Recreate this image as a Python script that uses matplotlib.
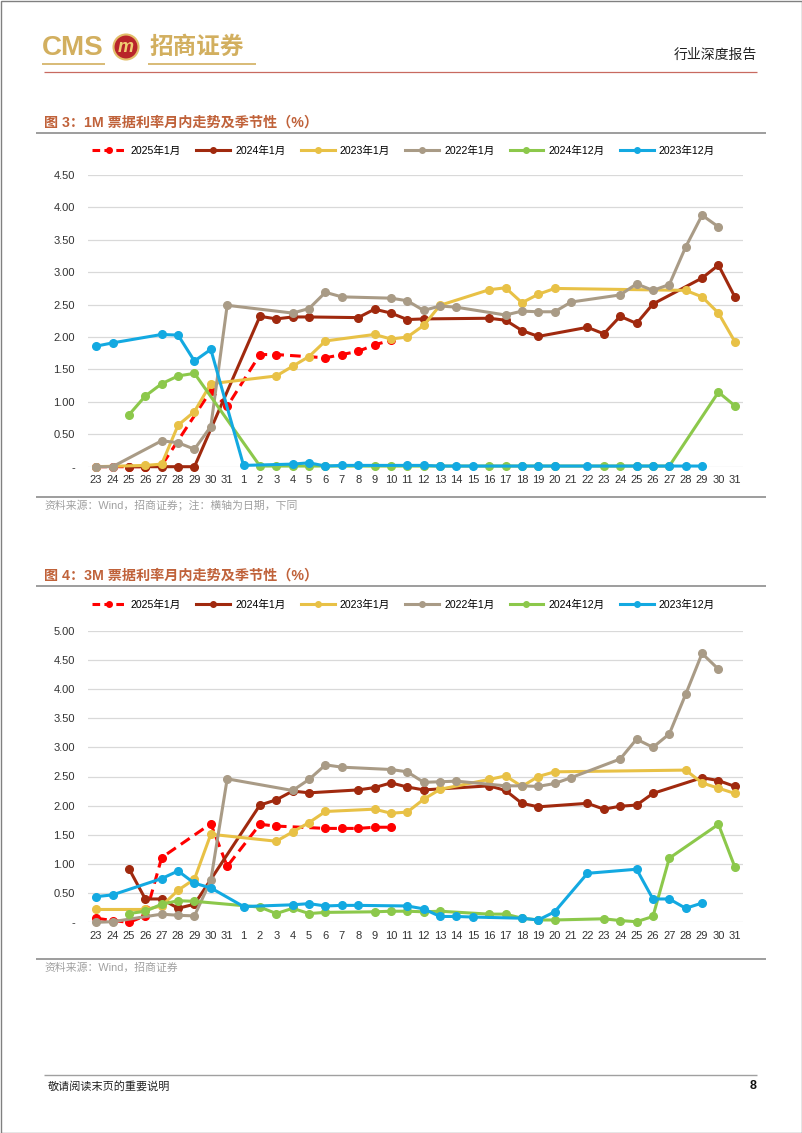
import numpy as np
import matplotlib
matplotlib.use("Agg")
import matplotlib.pyplot as plt
from matplotlib.lines import Line2D
from matplotlib.patches import Circle, Rectangle

plt.rcParams["font.family"] = ["Liberation Sans", "Noto Sans CJK SC"]

N = None

# -----------------------------
# DATA
# -----------------------------
# x axis: 23..31 of the previous month, then 1..31
days = [str(d) for d in list(range(23, 32)) + list(range(1, 32))]

names = ["2025年1月", "2024年1月", "2023年1月", "2022年1月", "2024年12月", "2023年12月"]
colors = ["#FF0000", "#A0290E", "#E8C146", "#A99B86", "#8CC84B", "#13A9E1"]

# 1M
r25_1m = [0, 0, 0, 0, 0.02, N, N, 1.17, 0.93,
          N, 1.73, 1.73, N, N, 1.68, 1.73, 1.78, 1.88, 1.95] + [N] * 21
r24_1m = [N, N, 0, 0, 0, 0, 0, N, N,
          N, 2.32, 2.28, 2.31, 2.31, N, N, 2.30, 2.43, 2.37,
          2.27, 2.28, N, N, N, 2.29, 2.26, 2.10, 2.01, N,
          N, 2.15, 2.05, 2.32, 2.21, 2.51, N, N, 2.91, 3.11, 2.62]
r23_1m = [0, N, N, 0.02, 0.04, 0.64, 0.85, 1.28, N,
          N, N, 1.40, 1.55, 1.70, 1.94, N, N, 2.04, 1.97,
          2.00, 2.18, 2.49, N, N, 2.73, 2.76, 2.53, 2.66, 2.75,
          N, N, N, N, N, N, N, 2.72, 2.62, 2.37, 1.93]
r22_1m = [0, 0, N, N, 0.40, 0.37, 0.27, 0.62, 2.49,
          N, N, N, 2.37, 2.44, 2.69, 2.62, N, N, 2.60,
          2.56, 2.41, 2.48, 2.46, N, N, 2.34, 2.40, 2.39, 2.39,
          2.54, N, N, 2.65, 2.82, 2.72, 2.81, 3.39, 3.88, 3.70, N]
d24_1m = [N, N, 0.80, 1.09, 1.28, 1.40, 1.44, N, N,
          N, 0.01, 0.01, 0.01, 0.01, 0.01, N, N, 0.01, 0.01,
          0.01, 0.01, 0.01, N, N, 0.01, 0.01, 0.01, 0.01, 0.01,
          N, N, 0.01, 0.01, 0.01, 0.01, 0.01, N, N, 1.15, 0.94]
d23_1m = [1.86, 1.91, N, N, 2.04, 2.03, 1.63, 1.81, N,
          0.02, N, N, 0.04, 0.06, 0.01, 0.02, 0.02, N, N,
          0.02, 0.02, 0.01, 0.01, 0.01, N, N, 0.01, 0.01, 0.01,
          N, 0.01, N, N, 0.01, 0.01, 0.01, 0.01, 0.01, N, N]

# 3M
r25_3m = [0.07, 0.03, 0.0, 0.11, 1.11, N, N, 1.69, 0.96,
          N, 1.68, 1.65, N, N, 1.61, 1.61, 1.61, 1.63, 1.63] + [N] * 21
r24_3m = [N, N, 0.92, 0.40, 0.40, 0.24, 0.31, N, N,
          N, 2.01, 2.10, 2.25, 2.22, N, N, 2.27, 2.31, 2.39,
          2.32, 2.27, N, N, N, 2.34, 2.26, 2.04, 1.98, N,
          N, 2.04, 1.94, 1.99, 2.01, 2.21, N, N, 2.48, 2.43, 2.33]
r23_3m = [0.22, N, N, 0.22, 0.28, 0.55, 0.74, 1.51, N,
          N, N, 1.39, 1.55, 1.71, 1.90, N, N, 1.94, 1.87,
          1.89, 2.11, 2.28, N, N, 2.45, 2.51, 2.33, 2.50, 2.58,
          N, N, N, N, N, N, N, 2.61, 2.39, 2.30, 2.21]
r22_3m = [0.0, 0.01, N, N, 0.14, 0.12, 0.11, 0.72, 2.46,
          N, N, N, 2.26, 2.45, 2.70, 2.66, N, N, 2.62,
          2.58, 2.40, 2.41, 2.42, N, N, 2.34, 2.34, 2.33, 2.38,
          2.48, N, N, 2.80, 3.14, 3.00, 3.23, 3.91, 4.61, 4.34, N]
d24_3m = [N, N, 0.15, 0.19, 0.31, 0.37, 0.36, N, N,
          N, 0.26, 0.15, 0.24, 0.15, 0.17, N, N, 0.18, 0.19,
          0.19, 0.18, 0.19, N, N, 0.14, 0.14, 0.07, 0.04, 0.04,
          N, N, 0.06, 0.03, 0.01, 0.10, 1.10, N, N, 1.68, 0.95]
d23_3m = [0.44, 0.47, N, N, 0.75, 0.88, 0.67, 0.59, N,
          0.27, N, N, 0.30, 0.32, 0.28, 0.29, 0.29, N, N,
          0.28, 0.23, 0.10, 0.10, 0.09, N, N, 0.07, 0.04, 0.18,
          N, 0.84, N, N, 0.91, 0.40, 0.40, 0.24, 0.33, N, N]

series_1m = [r25_1m, r24_1m, r23_1m, r22_1m, d24_1m, d23_1m]
series_3m = [r25_3m, r24_3m, r23_3m, r22_3m, d24_3m, d23_3m]

# -----------------------------
# FIGURE
# -----------------------------
W, H = 802, 1133
fig = plt.figure(figsize=(W / 100, H / 100), dpi=100)
fig.patch.set_facecolor("white")

bg = fig.add_axes([0, 0, 1, 1], zorder=0)
bg.set_xlim(0, W)
bg.set_ylim(H, 0)
bg.axis("off")

def fx(px):
    return px / W

def fy(py):
    return 1 - py / H

def hline(y, x0, x1, color, lw):
    bg.plot([x0, x1], [y, y], color=color, lw=lw, solid_capstyle="butt")

# header
gold = "#D2AF5F"
bg.text(42, 48, "CMS", fontsize=20, color=gold, va="center", ha="left", fontweight="bold")
bg.add_patch(Circle((126, 47), 12.5, facecolor="#B8242A", edgecolor="#E2BE6A", lw=1.5))
bg.text(126, 47, "m", fontsize=13, color="#F0CE72", ha="center", va="center",
        fontweight="bold", style="italic")
bg.text(150, 47, "招商证券", fontsize=17, color=gold, va="center", ha="left",
        family=["Noto Sans CJK SC"], fontweight="bold")
hline(63.5, 42, 105, gold, 1.2)
hline(63.5, 148, 256, gold, 1.2)
bg.text(757, 55, "行业深度报告", fontsize=10, color="#222222", ha="right", va="center")
hline(72, 44, 757, "#C86A60", 0.9)

title_color = "#C0623A"
src_color = "#A0A0A0"


def draw_chart(title, title_y, top_px, bottom_px, ymax, series, legend_y, src_y, src_text):
    bg.text(44, title_y, title, fontsize=10.2, color=title_color, va="center", ha="left",
            fontweight="bold")
    hline(title_y + 10, 36, 766, "#8C8C8C", 1.2)

    ax = fig.add_axes([fx(88), fy(bottom_px), fx(743) - fx(88), fy(top_px) - fy(bottom_px)],
                      zorder=2)
    ax.set_facecolor("none")
    for i, vals in enumerate(series):
        xs = [k for k, v in enumerate(vals) if v is not None]
        ys = [v for v in vals if v is not None]
        line, = ax.plot(xs, ys, color=colors[i], lw=2.2, marker="o", ms=5.5,
                        zorder=3 + i, clip_on=False)
        if i == 0:
            line.set_dashes((3.5, 2))
    ax.set_xlim(-0.5, 39.5)
    ax.set_ylim(0, ymax)
    yt = np.arange(0, ymax + 0.001, 0.5)
    ax.set_yticks(yt)
    ax.set_yticklabels(["-" if v == 0 else f"{v:.2f}" for v in yt])
    ax.set_xticks(range(len(days)))
    ax.set_xticklabels(days)
    ax.grid(axis="y", color="#D9D9D9", lw=0.9)
    ax.set_axisbelow(True)
    for s in ax.spines.values():
        s.set_visible(False)
    ax.tick_params(axis="y", length=0, labelsize=8, colors="#333333", pad=9.4)
    ax.tick_params(axis="x", length=0, labelsize=8, colors="#333333", pad=6)

    handles = []
    for i, name in enumerate(names):
        h = Line2D([], [], color=colors[i], lw=2.2, marker="o", ms=4, label=name)
        if i == 0:
            h.set_dashes((2.5, 1.4))
        handles.append(h)
    fig.legend(handles=handles, loc="center left", bbox_to_anchor=(fx(92), fy(legend_y)),
               ncol=6, frameon=False, fontsize=7.6, handlelength=3.2, handletextpad=0.48,
               columnspacing=1.45, borderpad=0, borderaxespad=0)

    hline(src_y - 8.5, 36, 766, "#8C8C8C", 1.2)
    bg.text(44, src_y, src_text, fontsize=7.8, color=src_color, va="center", ha="left")


draw_chart("图 3：1M 票据利率月内走势及季节性（%）", 123, 175, 466.7, 4.5, series_1m, 151,
           505.5, "资料来源：Wind，招商证券；注：横轴为日期，下同")
draw_chart("图 4：3M 票据利率月内走势及季节性（%）", 576, 630.7, 922.3, 5.0, series_3m, 605,
           967.5, "资料来源：Wind，招商证券")

# footer
hline(1075, 44, 757, "#A0A0A0", 1.0)
bg.text(48, 1086, "敬请阅读末页的重要说明", fontsize=8, color="#222222", va="center", ha="left")
bg.text(757, 1086, "8", fontsize=9, color="#111111", va="center", ha="right", fontweight="bold")

bg.add_patch(Rectangle((0.5, 0.5), W - 1, H - 1, fill=False, edgecolor="#808080", lw=1))

fig.savefig("out.png", dpi=100)
